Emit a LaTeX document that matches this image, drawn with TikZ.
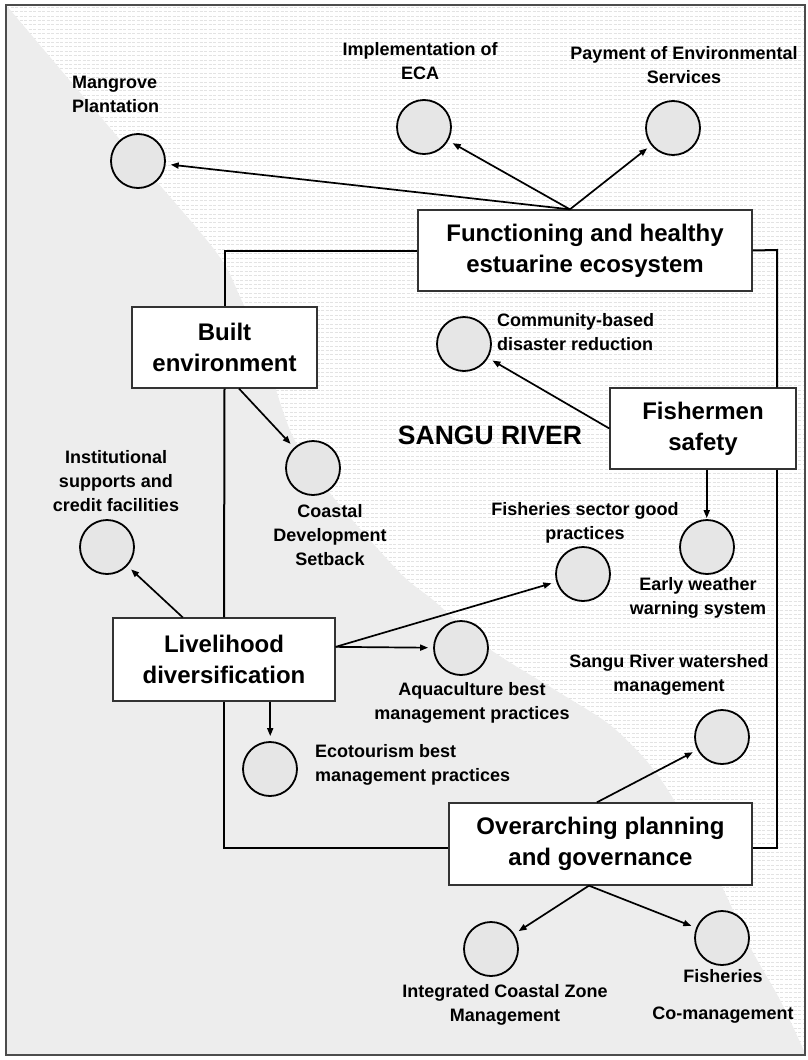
\documentclass[tikz,border=0pt]{standalone}
\usepackage{fontspec}
\setmainfont{Liberation Sans}
\usetikzlibrary{arrows.meta,calc}
\definecolor{land}{HTML}{EDEDED}
\definecolor{cirfill}{HTML}{E6E6E6}
\definecolor{dashc}{HTML}{E3E3E3}
\begin{document}
\begin{tikzpicture}[x=1pt,y=-1pt,
  box/.style={draw=black!80,line width=1.3pt,fill=white,align=center,
    font=\fontsize{24}{31}\selectfont\bfseries,inner sep=0pt},
  cir/.style={circle,draw=black,line width=1.8pt,fill=cirfill,minimum size=54pt,inner sep=0pt},
  lbl/.style={align=center,font=\fontsize{18}{24}\selectfont\bfseries,inner sep=0pt},
  arr/.style={-{Triangle[length=8pt,width=6pt]},line width=1.7pt,shorten >=5pt},
  frameline/.style={line width=2pt,black}
]
\useasboundingbox (0,0) rectangle (808,1060);
% river background
\fill[white] (6,5) rectangle (805,1055);
\foreach \y in {7,11.4,...,1055}
  \draw[dashc,line width=0.5pt,dash pattern=on 3pt off 1.5pt] (6,\y) -- (805,\y);
% land
\fill[land] (6,1055) -- (6,5) -- plot[smooth,tension=0.5] coordinates {(6,5) (110,128) (213,248) (240,297) (267,363) (293,437) (333,497) (400,573) (433,600) (488,648) (560,693) (610,725) (650,765) (680,810) (722,887) (750,947) (780,1000) (805,1053)} -- (805,1055) -- cycle;
\draw[black!70,line width=1.2pt] (6,5) rectangle (805,1055);

% boxes
\node[box,minimum width=334pt,minimum height=81pt] (fun) at (585,250.5) {Functioning and healthy\\estuarine ecosystem};
\node[box,minimum width=185pt,minimum height=81pt] (built) at (224.5,347.5) {Built\\environment};
\node[box,minimum width=186pt,minimum height=81pt] (fish) at (703,428.5) {Fishermen\\safety};
\node[box,minimum width=222pt,minimum height=83pt] (liv) at (224,659.5) {Livelihood\\diversification};
\node[box,minimum width=303pt,minimum height=82pt] (ov) at (600.5,844) {Overarching planning\\and governance};

% frame lines
\coordinate (rtop) at (777,250);
\coordinate (rbot) at (777,848);
\draw[frameline] (fun.west) -| (built.north);
\draw[frameline] (built.south) -- (liv.north);
\draw[frameline] (liv.south) |- ([yshift=-4pt]ov.west);
\draw[frameline] (fun.east) -- (rtop) -- (fish.north -| rtop);
\draw[frameline] (fish.south -| rtop) -- (rbot) -- (ov.east |- rbot);

% circles
\node[cir] (mang) at (138,161) {};
\node[cir] (eca) at (424,127) {};
\node[cir] (pes) at (673,128) {};
\node[cir] (cbdr) at (464,344) {};
\node[cir] (cds) at (313,468) {};
\node[cir] (inst) at (107,547) {};
\node[cir] (fsgp) at (583,574) {};
\node[cir] (eww) at (707,547) {};
\node[cir] (aqua) at (461,648) {};
\node[cir] (eco) at (270,769) {};
\node[cir] (srwm) at (722,737) {};
\node[cir] (iczm) at (491,949) {};
\node[cir] (fcm) at (722,938) {};

% labels
\node[lbl,anchor=west,align=left] (lmang) at (72,94) {Mangrove\\Plantation};
\node[lbl] (leca) at (420,61) {Implementation of\\ECA};
\node[lbl] (lpes) at (684,65) {Payment of Environmental\\Services};
\node[lbl,anchor=west,align=left] (lcbdr) at (497,332.5) {Community-based\\disaster reduction};
\node[lbl,font=\fontsize{26.5}{30}\selectfont\bfseries] (river) at (490,435) {SANGU RIVER};
\node[lbl] (linst) at (116,481) {Institutional\\supports and\\credit facilities};
\node[lbl] (lcds) at (330,535) {Coastal\\Development\\Setback};
\node[lbl] (lfsgp) at (585,523) {Fisheries sector good\\practices};
\node[lbl] (leww) at (698,598) {Early weather\\warning system};
\node[lbl] (laqua) at (472,703) {Aquaculture best\\management practices};
\node[lbl,anchor=west,align=left] (leco) at (315,764.5) {Ecotourism best\\management practices};
\node[lbl] (lsrwm) at (669,674.5) {Sangu River watershed\\management};
\node[lbl] (liczm) at (505,1004.5) {Integrated Coastal Zone\\Management};
\node[lbl] (lfcm) at (723,996.5) {Fisheries\\[13pt]Co-management};

% connectors
\coordinate (funtop) at ($(fun.north west)!0.455!(fun.north east)$);
\draw[arr] (funtop) -- (mang);
\draw[arr] (funtop) -- (eca);
\draw[arr] (funtop) -- (pes);
\coordinate (builtbot) at ($(built.south west)!0.578!(built.south east)$);
\draw[arr] (builtbot) -- (cds);
\draw[arr] (fish.west) -- (cbdr);
\coordinate (fishbot) at ($(fish.south west)!0.52!(fish.south east)$);
\draw[arr,shorten >=1pt] (fishbot) -- (fishbot |- eww.north);
\coordinate (livtop) at ($(liv.north west)!0.315!(liv.north east)$);
\draw[arr] (livtop) -- (inst);
\coordinate (livright) at ($(liv.north east)!0.35!(liv.south east)$);
\draw[arr] (livright) -- (fsgp);
\draw[arr] (livright) -- (aqua);
\coordinate (livbot) at ($(liv.south west)!0.707!(liv.south east)$);
\draw[arr] (livbot) -- (livbot |- eco.north);
\coordinate (ovtop) at ($(ov.north west)!0.488!(ov.north east)$);
\draw[arr] (ovtop) -- (srwm);
\coordinate (ovbot) at ($(ov.south west)!0.462!(ov.south east)$);
\draw[arr] (ovbot) -- (iczm);
\draw[arr] (ovbot) -- (fcm);
\end{tikzpicture}
\end{document}
